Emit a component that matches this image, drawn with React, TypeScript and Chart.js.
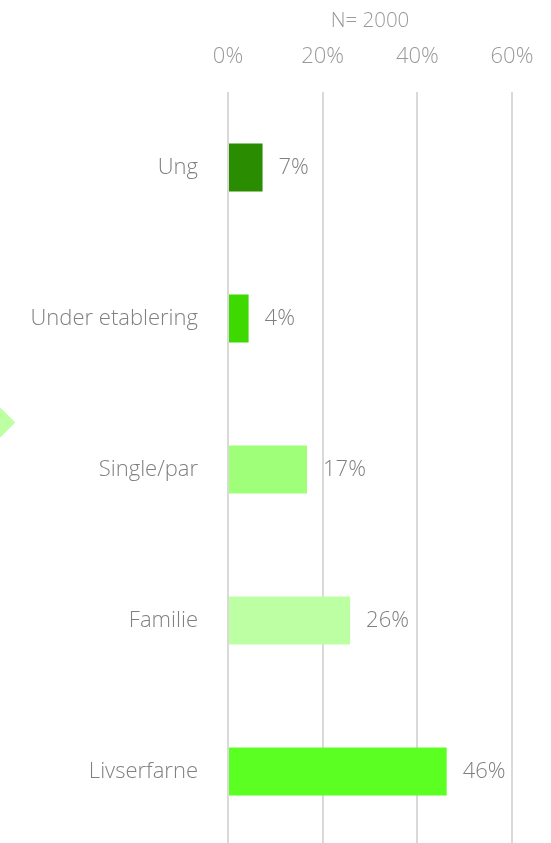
import React, { useEffect, useRef } from "react";
import { Chart, registerables } from "chart.js";

Chart.register(...registerables);

const categories = ["Ung", "Under etablering", "Single/par", "Familie", "Livserfarne"];
const values = [7.3, 4.35, 16.7, 25.8, 46.2];
const valueLabels = ["7%", "4%", "17%", "26%", "46%"];
const barColors = ["#2a8c00", "#3dd900", "#a0ff78", "#bdffa3", "#5cff22"];
const xTicks = [0, 20, 40, 60];
const sampleTitle = "N= 2000";

const FONT = "'Open Sans', sans-serif";

const valueLabelPlugin = {
  id: "valueLabels",
  afterDatasetsDraw(chart: any) {
    const ctx = chart.ctx;
    const meta = chart.getDatasetMeta(0);
    ctx.save();
    ctx.font = `300 22px ${FONT}`;
    ctx.fillStyle = "#7f7f7f";
    ctx.textAlign = "left";
    ctx.textBaseline = "middle";
    meta.data.forEach((el: any, i: number) => {
      ctx.fillText(valueLabels[i], el.x + 16, el.y);
    });
    ctx.restore();
  },
};

export default function App() {
  const ref = useRef<HTMLCanvasElement | null>(null);

  useEffect(() => {
    document.body.style.margin = "0";
    document.body.style.overflow = "hidden";
    const chart = new Chart(ref.current as HTMLCanvasElement, {
      type: "bar",
      data: {
        labels: categories,
        datasets: [
          {
            data: values,
            backgroundColor: barColors,
            borderWidth: 0,
            categoryPercentage: 1,
            barPercentage: 0.318,
          },
        ],
      },
      options: {
        indexAxis: "y",
        animation: false,
        responsive: false,
        maintainAspectRatio: false,
        layout: { padding: { top: 0, right: 39, bottom: 0, left: 0 } },
        plugins: {
          legend: { display: false },
          tooltip: { enabled: false },
        },
        scales: {
          x: {
            position: "top",
            min: 0,
            max: 60,
            afterBuildTicks(scale: any) {
              scale.ticks = xTicks.map((v) => ({ value: v }));
            },
            afterFit(scale: any) {
              scale.height = 92;
              scale.paddingLeft = 0;
              scale.paddingRight = 0;
            },
            border: { display: false },
            grid: { color: "#d9d9d9", lineWidth: 2, drawTicks: false },
            ticks: {
              padding: 22,
              color: "#9a9a9a",
              font: { family: FONT, size: 22, weight: "300" },
              callback: (v: any) => `${v}%`,
            },
            title: {
              display: true,
              text: sampleTitle,
              color: "#9a9a9a",
              font: { family: FONT, size: 20.5, weight: "300" },
              padding: { top: 9, bottom: 0 },
            },
          },
          y: {
            afterFit(scale: any) {
              scale.width = 228;
              scale.paddingTop = 0;
              scale.paddingBottom = 0;
            },
            border: { display: false },
            grid: { display: false, drawTicks: false },
            ticks: {
              padding: 30,
              color: "#808080",
              font: { family: FONT, size: 22, weight: "300" },
            },
          },
        },
      },
      plugins: [valueLabelPlugin],
    } as any);
    return () => chart.destroy();
  }, []);

  return (
    <div style={{ position: "relative", width: 551, height: 847 }}>
      <canvas ref={ref} width={551} height={847} style={{ display: "block" }} />
      <div
        style={{
          position: "absolute",
          left: -10.5,
          top: 422 - 10.5,
          width: 21,
          height: 21,
          background: "#bdffa3",
          transform: "rotate(45deg)",
        }}
      />
    </div>
  );
}
